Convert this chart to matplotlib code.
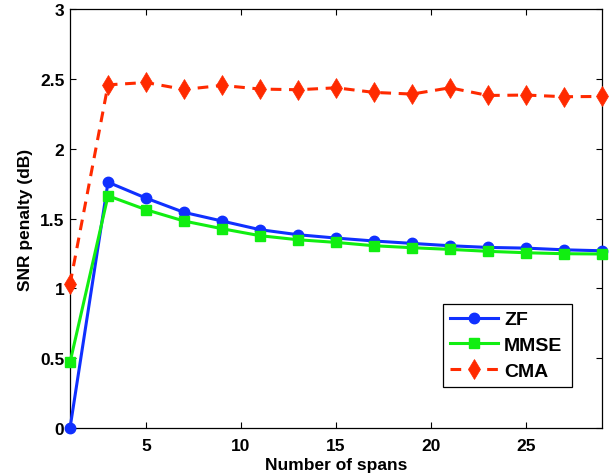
import matplotlib
matplotlib.use("Agg")
import matplotlib.pyplot as plt

plt.rcParams['font.family'] = ['Liberation Sans', 'DejaVu Sans']
plt.rcParams['font.weight'] = 'bold'

# data
spans = [1, 3, 5, 7, 9, 11, 13, 15, 17, 19, 21, 23, 25, 27, 29]
zf = [0.0, 1.76, 1.646, 1.544, 1.482, 1.42, 1.384, 1.36, 1.339, 1.322,
      1.305, 1.293, 1.288, 1.276, 1.269]
mmse = [0.47, 1.663, 1.563, 1.482, 1.427, 1.377, 1.348, 1.329, 1.305, 1.291,
        1.279, 1.265, 1.255, 1.248, 1.246]
cma = [1.03, 2.457, 2.474, 2.424, 2.453, 2.427, 2.422, 2.436, 2.403, 2.391,
       2.436, 2.381, 2.384, 2.372, 2.374]
xticks = [5, 10, 15, 20, 25]
yticks = [0, 0.5, 1, 1.5, 2, 2.5, 3]
ylabels = ['0', '0.5', '1', '1.5', '2', '2.5', '3']

fig = plt.figure(figsize=(6.1, 4.77), dpi=100)
ax = fig.add_axes([0.1148, 0.1006, 0.8721, 0.8784])

ax.plot(spans, zf, color='#1030ff', lw=2.2, marker='o', ms=7.5,
        label='ZF', clip_on=False, zorder=3)
ax.plot(spans, mmse, color='#11ee11', lw=2.2, marker='s', ms=6.5,
        label='MMSE', clip_on=False, zorder=3)
ax.plot(spans, cma, color='#ff2a00', lw=2.2, ls='--', dashes=(3.5, 2.5),
        marker='d', ms=10, mew=0.5, label='CMA', clip_on=False, zorder=3)

ax.set_xlim(1, 29)
ax.set_ylim(0, 3)
ax.set_xticks(xticks)
ax.set_xticklabels([str(t) for t in xticks], fontweight='bold')
ax.set_yticks(yticks)
ax.set_yticklabels(ylabels, fontweight='bold')
ax.tick_params(direction='in', top=True, right=True, length=4, width=0.8,
               labelsize=12.5)
ax.tick_params(axis='x', pad=7)
ax.tick_params(axis='y', pad=4)
for s in ax.spines.values():
    s.set_linewidth(0.9)

ax.set_xlabel('Number of spans', fontsize=12.5, fontweight='bold', labelpad=3)
ax.set_ylabel('SNR penalty (dB)', fontsize=12.5, fontweight='bold', labelpad=5)

leg = ax.legend(loc='upper left', bbox_to_anchor=(0.7006, 0.296, 0.2434, 0.0),
                mode='expand', borderaxespad=0, fancybox=False, framealpha=1,
                edgecolor='black', handlelength=2.5, handletextpad=0.3,
                prop={'weight': 'bold', 'size': 14}, labelspacing=0.42,
                borderpad=0.35)
leg.get_frame().set_linewidth(0.9)

plt.savefig('out.png', dpi=100)
plt.close()
